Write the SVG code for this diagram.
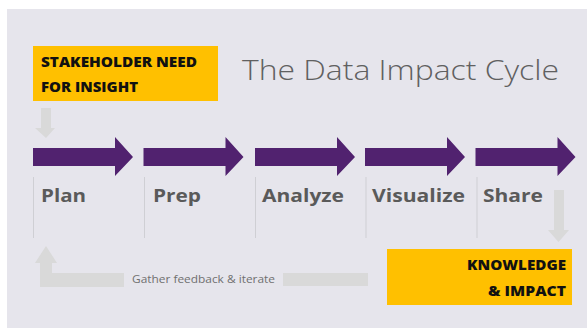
<svg xmlns="http://www.w3.org/2000/svg" width="587" height="328" viewBox="0 0 587 328">
<style>
.box{fill:#ffc000}
.boxt{font-family:"Open Sans","Liberation Sans",sans-serif;font-weight:800;font-size:14px;fill:#111}
.step{fill:#51226f}
.lbl{font-family:"Open Sans","Liberation Sans",sans-serif;font-weight:700;font-size:18px;fill:#5a5a5a}
.sep{stroke:#cfcfd4;stroke-width:1}
.grey{fill:#d9d9d9}
</style>
<defs>
<path id="arr" d="M0,148 H82 V137 L100,157 L82,176 V166 H0 Z"/>
</defs>
<rect x="7" y="9" width="580" height="319" fill="#e6e5ec"/>
<g id="title">
<text x="242" y="80" font-family="'Open Sans','Liberation Sans',sans-serif" font-weight="300" font-size="27" fill="#606060" textLength="317" lengthAdjust="spacingAndGlyphs">The Data Impact Cycle</text>
</g>
<g id="need">
<rect class="box" x="33" y="46" width="185" height="55"/>
<text class="boxt" x="41" y="67" textLength="156" lengthAdjust="spacingAndGlyphs">STAKEHOLDER NEED</text>
<text class="boxt" x="41" y="92" textLength="97" lengthAdjust="spacingAndGlyphs">FOR INSIGHT</text>
</g>
<g id="impact">
<rect class="box" x="387" y="249" width="185" height="56"/>
<text class="boxt" x="566" y="270" text-anchor="end" textLength="99" lengthAdjust="spacingAndGlyphs">KNOWLEDGE</text>
<text class="boxt" x="566" y="296" text-anchor="end" textLength="78" lengthAdjust="spacingAndGlyphs">&amp; IMPACT</text>
</g>
<g id="plan">
<use href="#arr" class="step" x="33"/>
<line class="sep" x1="33.5" y1="177" x2="33.5" y2="238"/>
<text class="lbl" x="41" y="202" textLength="45" lengthAdjust="spacingAndGlyphs">Plan</text>
</g>
<g id="prep">
<use href="#arr" class="step" x="143.5"/>
<line class="sep" x1="144.5" y1="177" x2="144.5" y2="238"/>
<text class="lbl" x="153" y="202" textLength="48" lengthAdjust="spacingAndGlyphs">Prep</text>
</g>
<g id="analyze">
<use href="#arr" class="step" x="255"/>
<line class="sep" x1="255.5" y1="177" x2="255.5" y2="238"/>
<text class="lbl" x="262" y="202" textLength="82" lengthAdjust="spacingAndGlyphs">Analyze</text>
</g>
<g id="visualize">
<use href="#arr" class="step" x="365"/>
<line class="sep" x1="366" y1="177" x2="366" y2="238"/>
<text class="lbl" x="372" y="202" textLength="93" lengthAdjust="spacingAndGlyphs">Visualize</text>
</g>
<g id="share">
<use href="#arr" class="step" x="475.5"/>
<line class="sep" x1="477" y1="177" x2="477" y2="238"/>
<text class="lbl" x="483" y="202" textLength="60" lengthAdjust="spacingAndGlyphs">Share</text>
</g>
<g id="connectors">
<path class="grey" d="M41,108 H51 V128 H55 L46,138 L35,128 H41 Z"/>
<path class="grey" d="M554,190 H564 V230 H569 L558.5,242 L548,230 H554 Z"/>
<path class="grey" d="M40,287 V263 H35 L46,246 L57,263 H52 V273 H124 V287 Z"/>
<rect class="grey" x="283" y="273" width="85" height="13"/>
<text x="132" y="283" font-family="'Open Sans','Liberation Sans',sans-serif" font-size="11" fill="#707070" textLength="143" lengthAdjust="spacingAndGlyphs">Gather feedback &amp; iterate</text>
</g>
</svg>
